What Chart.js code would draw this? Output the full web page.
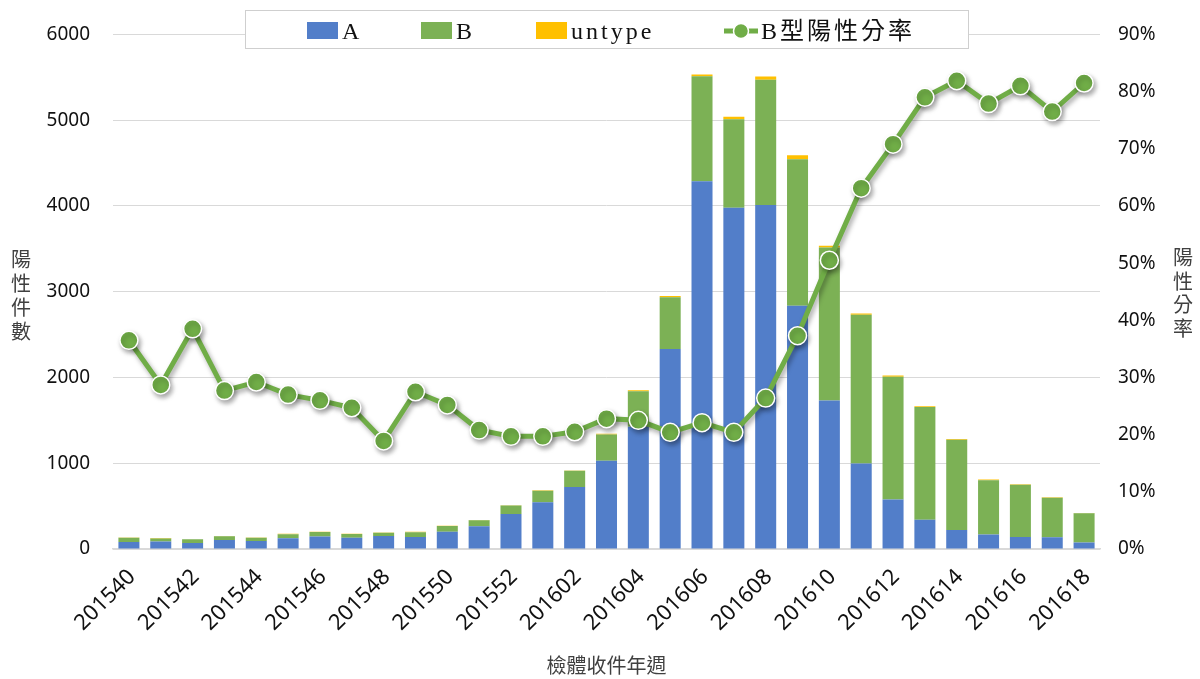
<!DOCTYPE html>
<html>
<head>
<meta charset="utf-8">
<script src="https://cdn.jsdelivr.net/npm/chart.js@4.4.1/dist/chart.umd.min.js"></script>
<style>
  html, body { margin: 0; padding: 0; background: #fff; }
  #wrap { width: 1200px; height: 679px; position: relative; }
</style>
</head>
<body>
<div id="wrap"><canvas id="flu-chart"></canvas></div>
<script>
// weeks 201540 .. 201618
const weeks = ['201540','201541','201542','201543','201544','201545','201546','201547','201548','201549','201550','201551','201552',
  '201601','201602','201603','201604','201605','201606','201607','201608','201609','201610','201611','201612','201613','201614',
  '201615','201616','201617','201618'];
const typeA = [82, 86, 69, 106, 93, 125, 145, 131, 153, 141, 200, 265, 407, 545, 723, 1028, 1424, 2333, 4288, 3980, 4010, 2835,
  1730, 998, 577, 340, 222, 169, 139, 136, 75];
const typeB = [49, 36, 44, 42, 39, 48, 52, 44, 36, 55, 69, 70, 101, 135, 188, 307, 416, 602, 1223, 1030, 1460, 1710,
  1785, 1733, 1432, 1315, 1052, 632, 611, 461, 341];
const untype = [3, 5, 2, 5, 2, 4, 3, 2, 3, 4, 3, 3, 3, 4, 4, 10, 10, 15, 20, 30, 38, 45, 20, 15, 15, 10, 10, 10, 4, 6, 3];
// B型陽性分率 (%)
const bRatio = [36.5, 28.7, 38.5, 27.7, 29.2, 27.0, 26.0, 24.7, 18.9, 27.5, 25.2, 20.8, 19.7, 19.7, 20.5, 22.8, 22.5, 20.4,
  22.1, 20.4, 26.4, 37.3, 50.5, 63.1, 70.8, 79.0, 81.9, 77.9, 81.0, 76.5, 81.5];

const textColor = '#404040';
const gridColor = '#d9d9d9';
const numFont = { family: '"Noto Sans", "Open Sans", sans-serif', size: 19 };

// shadow under the ratio line, like the office chart
const lineShadow = {
  id: 'lineShadow',
  beforeDatasetDraw(chart, args) {
    if (args.meta.type !== 'line') return;
    const ctx = chart.ctx;
    ctx.save();
    ctx.shadowColor = 'rgba(0,0,0,0.35)';
    ctx.shadowBlur = 5;
    ctx.shadowOffsetX = 2;
    ctx.shadowOffsetY = 3;
  },
  afterDatasetDraw(chart, args) {
    if (args.meta.type === 'line') chart.ctx.restore();
  }
};

// vertical (stacked character) axis titles
const sideTitles = {
  id: 'sideTitles',
  afterDraw(chart) {
    const ctx = chart.ctx;
    const mid = (chart.chartArea.top + chart.chartArea.bottom) / 2;
    ctx.save();
    ctx.font = '20px "Noto Sans CJK TC"';
    ctx.fillStyle = textColor;
    ctx.textAlign = 'center';
    ctx.textBaseline = 'middle';
    [...'陽性件數'].forEach((ch, i) => ctx.fillText(ch, 21, mid - 32 + i * 24));
    [...'陽性分率'].forEach((ch, i) => ctx.fillText(ch, 1183, mid - 34 + i * 23.5));
    ctx.restore();
  }
};

// boxed legend at the top
const legendX = [307, 421, 536, 724];
const boxLegend = {
  id: 'boxLegend',
  afterDraw(chart) {
    const ctx = chart.ctx;
    const cy = 31;
    ctx.save();
    ctx.fillStyle = '#fff';
    ctx.fillRect(245, 10, 723, 38);
    ctx.strokeStyle = '#cfcfcf';
    ctx.lineWidth = 1;
    ctx.strokeRect(245.5, 10.5, 723, 38);
    ctx.font = '24px "Liberation Serif", "Noto Sans CJK TC", serif';
    ctx.letterSpacing = '3px';
    ctx.textBaseline = 'middle';
    ctx.textAlign = 'left';
    chart.data.datasets.forEach((ds, i) => {
      let x = legendX[i];
      if (ds.type === 'line') {
        ctx.strokeStyle = ds.borderColor;
        ctx.lineWidth = 5;
        ctx.beginPath();
        ctx.moveTo(x, cy);
        ctx.lineTo(x + 34, cy);
        ctx.stroke();
        ctx.beginPath();
        ctx.arc(x + 17, cy, 7.5, 0, Math.PI * 2);
        ctx.fillStyle = ds.backgroundColor;
        ctx.fill();
        ctx.strokeStyle = '#fff';
        ctx.lineWidth = 1.5;
        ctx.stroke();
        x += 37;
      } else {
        ctx.fillStyle = ds.backgroundColor;
        ctx.fillRect(x, cy - 9, 31, 17);
        x += 35;
      }
      ctx.fillStyle = '#111';
      ctx.fillText(ds.label, x, cy + 2);
    });
    ctx.restore();
  }
};

const ctx = document.getElementById('flu-chart');

let fluChart = new Chart(ctx, {
  type: 'bar',
  data: {
    labels: weeks,
    datasets: [{
      label: 'A',
      data: typeA,
      backgroundColor: '#527ec9',
      barPercentage: 0.66,
      categoryPercentage: 1,
      order: 1,
    }, {
      label: 'B',
      data: typeB,
      backgroundColor: '#7cb155',
      barPercentage: 0.66,
      categoryPercentage: 1,
      order: 1,
    }, {
      label: 'untype',
      data: untype,
      backgroundColor: '#ffc000',
      barPercentage: 0.66,
      categoryPercentage: 1,
      order: 1,
    }, {
      type: 'line',
      label: 'B型陽性分率',
      data: bRatio,
      yAxisID: 'y1',
      borderColor: '#70ad47',
      backgroundColor: '#70ad47',
      borderWidth: 5,
      pointRadius: 9,
      pointBorderColor: '#fff',
      pointBorderWidth: 1.5,
      tension: 0,
      order: 0,
    }]
  },
  options: {
    responsive: true,
    maintainAspectRatio: false,
    animation: false,
    layout: { autoPadding: false, padding: { top: 30, left: 0, right: 0, bottom: 0 } },
    plugins: {
      legend: { display: false },
      tooltip: { enabled: false },
    },
    scales: {
      x: {
        stacked: true,
        grid: { display: false, drawTicks: false },
        border: { color: gridColor, width: 1.5 },
        ticks: {
          autoSkip: false,
          maxRotation: 45,
          minRotation: 45,
          padding: 15,
          labelOffset: 3,
          color: '#111',
          font: { family: '"Noto Sans", "Open Sans", sans-serif', size: 22 },
          callback(v, i) { return i % 2 === 0 ? this.getLabelForValue(v) : ''; },
        },
        title: {
          display: true,
          text: '檢體收件年週',
          color: textColor,
          font: { family: '"Noto Sans CJK TC"', size: 20 },
          padding: { top: 4, bottom: 2 },
        },
        afterFit(s) { s.height = 130; },
      },
      y: {
        stacked: true,
        min: 0,
        max: 6000,
        grid: { color: gridColor, drawTicks: false },
        border: { display: false },
        ticks: { stepSize: 1000, padding: 23, color: '#111', font: numFont, callback: v => String(v) },
        afterFit(s) { s.width = 113; },
      },
      y1: {
        position: 'right',
        min: 0,
        max: 90,
        grid: { drawOnChartArea: false, drawTicks: false },
        border: { display: false },
        ticks: { stepSize: 10, padding: 18, color: '#111', font: numFont, callback: v => v + '%' },
        afterFit(s) { s.width = 100; },
      },
    },
  },
  plugins: [lineShadow, sideTitles, boxLegend],
});
</script>
</body>
</html>
